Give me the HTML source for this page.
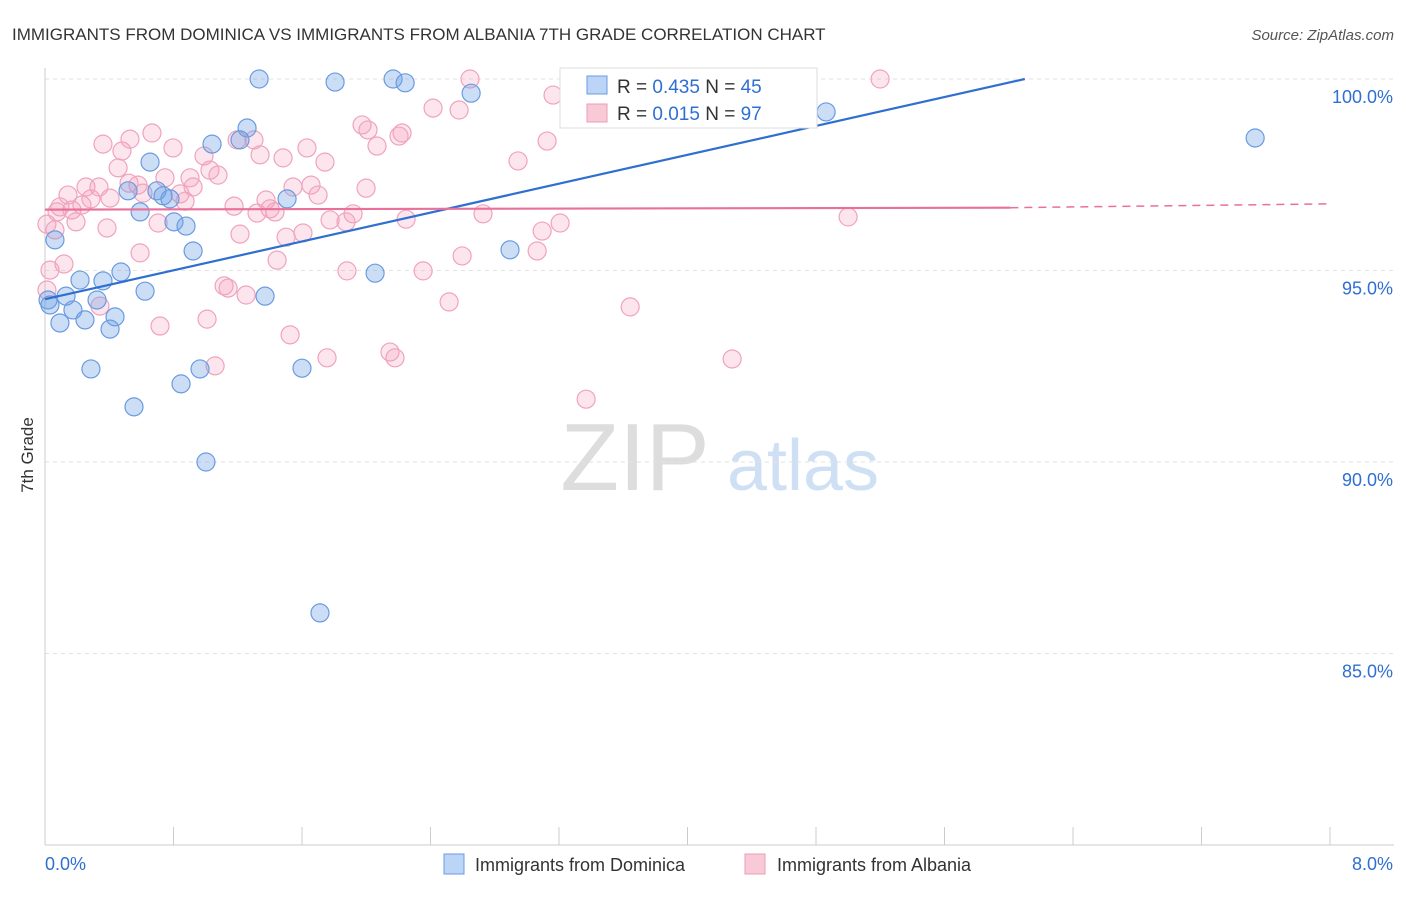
<!DOCTYPE html>
<html><head><meta charset="utf-8">
<style>
body{margin:0;background:#fff;font-family:"Liberation Sans",sans-serif;}
svg text{font-family:"Liberation Sans",sans-serif;}
</style></head>
<body>
<svg id="chart" width="1406" height="892" viewBox="0 0 1406 892" xmlns="http://www.w3.org/2000/svg">
<text x="12" y="40" font-size="17" fill="#333">IMMIGRANTS FROM DOMINICA VS IMMIGRANTS FROM ALBANIA 7TH GRADE CORRELATION CHART</text>
<text x="1394" y="40" font-size="15" fill="#555" font-style="italic" text-anchor="end">Source: ZipAtlas.com</text>
<text transform="translate(33,455) rotate(-90)" font-size="17" fill="#333" text-anchor="middle">7th Grade</text>
<g>
<text x="635" y="490" font-size="96" font-family="Liberation Serif,serif" fill="#ddd" text-anchor="middle">ZIP</text>
<text x="803" y="490" font-size="72" fill="#cfe0f5" text-anchor="middle">atlas</text>
</g>
<g id="grid"></g>
<g id="axes"></g>
<g id="points"></g>
<g id="lines"></g>
<g>
<rect x="560" y="68" width="257" height="60" fill="#fff" stroke="#ddd"/>
<rect x="587" y="76" width="20" height="18" fill="#bcd4f5" stroke="#6a9be0"/>
<text x="617" y="93" font-size="19" fill="#333">R = <tspan fill="#2f6fd1">0.435</tspan>   N = <tspan fill="#2f6fd1">45</tspan></text>
<rect x="587" y="104" width="20" height="18" fill="#f8c9d7" stroke="#ee9cb6"/>
<text x="617" y="120" font-size="19" fill="#333">R =  <tspan fill="#2f6fd1">0.015</tspan>   N = <tspan fill="#2f6fd1">97</tspan></text>
</g>
<g>
<rect x="444" y="854" width="20" height="20" fill="#bcd4f5" stroke="#6a9be0"/>
<text x="475" y="871" font-size="18" fill="#333">Immigrants from Dominica</text>
<rect x="745" y="854" width="20" height="20" fill="#f8c9d7" stroke="#ee9cb6"/>
<text x="777" y="871" font-size="18" fill="#333">Immigrants from Albania</text>
</g>
</svg>
<script>
const blueX=[1.333,1.806,2.167,2.242,2.653,4.184,4.863,7.534,1.040,1.258,1.214,0.654,0.517,0.697,0.735,0.778,0.592,0.803,0.878,1.507,0.062,0.922,0.473,0.218,0.361,0.131,0.324,0.623,1.370,2.055,2.895,0.093,0.249,0.436,0.405,0.174,0.286,0.847,0.965,1.600,0.554,1.002,1.712,0.019,0.031];
const blueY=[100,99.92,100,99.90,99.63,100,99.14,98.46,98.30,98.72,98.41,97.83,97.08,97.08,96.95,96.87,96.53,96.27,96.16,96.87,95.80,95.51,94.96,94.75,94.73,94.33,94.23,94.46,94.33,94.93,95.54,93.63,93.71,93.79,93.47,93.97,92.43,92.04,92.43,92.45,91.44,90.00,86.06,94.23,94.10];
const pinkX=[2.646,5.199,3.163,2.416,2.578,3.829,4.016,1.974,2.011,2.223,2.204,2.067,3.126,2.945,1.631,1.743,1.482,1.339,1.301,1.196,0.666,0.529,0.361,0.797,0.479,0.990,0.455,1.027,1.077,0.903,0.747,0.523,0.579,0.255,0.336,0.143,0.841,0.922,0.610,0.872,0.286,0.405,1.376,1.656,1.544,1.700,1.999,1.177,1.320,1.401,1.432,1.918,1.775,1.874,2.248,2.727,3.207,3.095,5.000,0.093,0.075,0.012,0.062,0.193,0.386,0.592,0.704,1.214,1.501,1.606,1.445,1.880,2.354,2.597,3.064,0.118,0.031,0.012,1.115,1.140,1.252,1.009,0.716,0.342,2.516,3.643,1.526,1.756,2.148,2.179,1.059,4.278,3.369,0.168,0.230];
const pinkY=[100,100,99.58,99.24,99.19,99.45,99.06,98.80,98.67,98.59,98.51,98.25,98.38,97.86,98.20,97.83,97.94,98.02,98.41,98.41,98.59,98.43,98.30,98.20,98.12,97.99,97.68,97.62,97.49,97.42,97.42,97.28,97.23,97.18,97.18,96.97,97.00,97.18,97.02,96.81,96.87,96.89,96.84,97.23,97.18,96.97,97.15,96.68,96.50,96.61,96.53,96.48,96.32,96.27,96.34,96.48,96.24,96.03,96.40,96.66,96.53,96.21,96.06,96.27,96.11,95.46,96.24,95.95,95.87,95.98,95.27,94.99,94.99,95.38,95.51,95.17,95.01,94.49,94.60,94.54,94.36,93.73,93.55,94.07,94.18,94.05,93.32,92.72,92.87,92.72,92.51,92.69,91.64,96.58,96.71];
const yTicks=[100,95,90,85];
const yTickLabels=["100.0%","95.0%","90.0%","85.0%"];
const xTicks=[0,0.8,1.6,2.4,3.2,4,4.8,5.6,6.4,7.2,8];
const blueTrend=[[0,94.25],[6.10,100]];
const pinkTrend=[[0,96.59],[6.01,96.64]];
const pinkTrendExt=[[6.01,96.64],[8,96.74]];

const X0=45,X1=1330,Y100=79,PX_PER=38.3;
const sx=v=>X0+(v/8)*(X1-X0);
const sy=v=>Y100+(100-v)*PX_PER;
const NS="http://www.w3.org/2000/svg";
function mk(tag,attrs,parent){const e=document.createElementNS(NS,tag);for(const k in attrs)e.setAttribute(k,attrs[k]);parent.appendChild(e);return e;}
const grid=document.getElementById('grid'),axes=document.getElementById('axes'),pts=document.getElementById('points'),lines=document.getElementById('lines');
yTicks.forEach((t,i)=>{
  const l=mk('line',{x1:X0,x2:1394,y1:sy(t),y2:sy(t),stroke:'#e2e2e2','stroke-dasharray':'4,4'},grid);
  
  
  const tx=mk('text',{x:1393,y:sy(t)+24,'font-size':18,fill:'#2f6fd1','text-anchor':'end'},axes);
  tx.textContent=yTickLabels[i];
  
  
});
const ax=mk('line',{x1:X0,x2:X0,y1:68,y2:845,stroke:'#ccc'},axes);


const bx=mk('line',{x1:X0,x2:1394,y1:845,y2:845,stroke:'#ccc'},axes);


xTicks.forEach(t=>{
  const l=mk('line',{x1:sx(t),x2:sx(t),y1:827,y2:845,stroke:'#ccc'},axes);
  
  
});
const xl0=mk('text',{x:45,y:870,'font-size':18,fill:'#2f6fd1'},axes);xl0.textContent='0.0%';


const xl1=mk('text',{x:1393,y:870,'font-size':18,fill:'#2f6fd1','text-anchor':'end'},axes);xl1.textContent='8.0%';



pinkX.forEach((x,i)=>{
  const c=mk('circle',{cx:sx(x),cy:sy(pinkY[i]),r:9,fill:'rgba(244,160,190,0.28)',stroke:'#f0a3bd','stroke-width':1.2},pts);
  
  
});
blueX.forEach((x,i)=>{
  const c=mk('circle',{cx:sx(x),cy:sy(blueY[i]),r:9,fill:'rgba(110,160,230,0.35)',stroke:'#6a9be0','stroke-width':1.2},pts);
  
  
});
const bl=mk('line',{x1:sx(blueTrend[0][0]),y1:sy(blueTrend[0][1]),x2:sx(blueTrend[1][0]),y2:sy(blueTrend[1][1]),stroke:'#2f6fd1','stroke-width':2.2},lines);


const pl=mk('line',{x1:sx(pinkTrend[0][0]),y1:sy(pinkTrend[0][1]),x2:sx(pinkTrend[1][0]),y2:sy(pinkTrend[1][1]),stroke:'#e8709a','stroke-width':2.2},lines);


const pe=mk('line',{x1:sx(pinkTrendExt[0][0]),y1:sy(pinkTrendExt[0][1]),x2:sx(pinkTrendExt[1][0]),y2:sy(pinkTrendExt[1][1]),stroke:'#e8709a','stroke-width':1.5,'stroke-dasharray':'8,6'},lines);


</script>
</body></html>
